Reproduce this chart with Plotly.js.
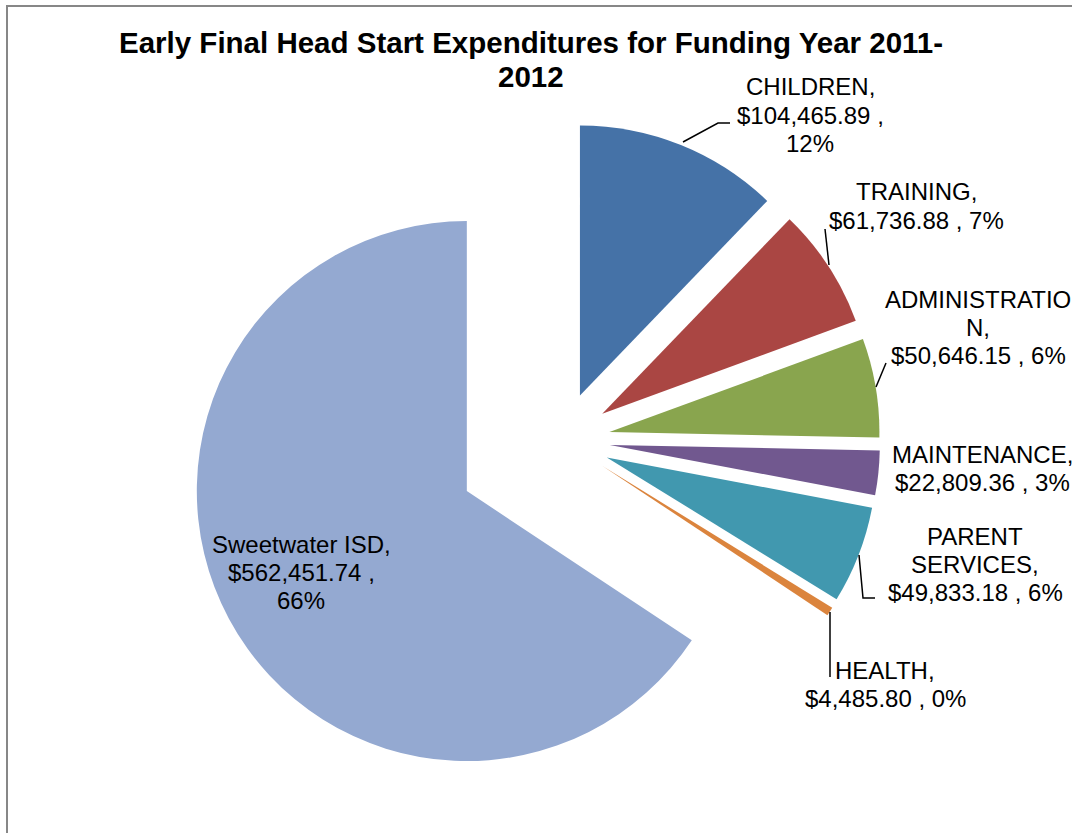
<!DOCTYPE html>
<html>
<head>
<meta charset="utf-8">
<script src="https://cdn.plot.ly/plotly-3.0.1.min.js"></script>
<style>
  html, body { margin: 0; padding: 0; background: #fff; }
  #chart { width: 1072px; height: 833px; }
</style>
</head>
<body>
<div id="chart"></div>
<script>
// slices, clockwise from 12 o'clock
const categories = ['CHILDREN', 'TRAINING', 'ADMINISTRATION', 'MAINTENANCE', 'PARENT SERVICES', 'HEALTH', 'Sweetwater ISD'];
const amounts = [104465.89, 61736.88, 50646.15, 22809.36, 49833.18, 4485.80, 562451.74];
const percents = ['12%', '7%', '6%', '3%', '6%', '0%', '66%'];
// label text, one entry per line as it wraps in the original
const labelLines = [
  ['CHILDREN,', '$104,465.89 ,', '12%'],
  ['TRAINING,', '$61,736.88 , 7%'],
  ['ADMINISTRATIO', 'N,', '$50,646.15 , 6%'],
  ['MAINTENANCE,', '$22,809.36 , 3%'],
  ['PARENT', 'SERVICES,', '$49,833.18 , 6%'],
  ['HEALTH,', '$4,485.80 , 0%'],
  ['Sweetwater ISD,', '$562,451.74 ,', '66%']
];
const titleLines = ['Early Final Head Start Expenditures for Funding Year 2011-', '2012'];

const colors = ['#4572A7', '#AA4643', '#89A54E', '#71588F', '#4198AF', '#DB843D', '#94A9D1'];
const pulls = [0.178, 0.178, 0.178, 0.178, 0.178, 0.178, 0.4];

const W = 1072, H = 833;
const px = (x, y) => [x / W, 1 - y / H];

// label block centres and leader lines, in pixels
const labelPos = [[810, 115], [916, 206], [978, 327], [982, 468], [975, 564], [885, 684], [301, 572]];
const LINE_GAP = 28;
const leaders = [
  [[683, 142], [718, 123], [730, 123]],
  [[829, 265], [825, 229]],
  [[876, 387], [886, 363]],
  null,
  [[859, 555], [863, 598], [875, 598]],
  [[830, 612], [830, 677]],
  null
];

const FONT = 'Liberation Sans, Arial, sans-serif';

let annotations = [];
labelLines.forEach((lines, i) => {
  let n = lines.length;
  lines.forEach((t, k) => {
    let yy = labelPos[i][1] + (k - (n - 1) / 2) * LINE_GAP;
    let p = px(labelPos[i][0], yy);
    annotations.push({
      text: t, x: p[0], y: p[1], xref: 'paper', yref: 'paper',
      xanchor: 'center', yanchor: 'middle', showarrow: false,
      font: {family: FONT, size: 24, color: '#000'}
    });
  });
});

// two-line chart title
titleLines.forEach((t, k) => {
  let p = px(531, 42 + k * 34.5);
  annotations.push({
    text: t, x: p[0], y: p[1], xref: 'paper', yref: 'paper',
    xanchor: 'center', yanchor: 'middle', showarrow: false,
    font: {family: FONT, size: 29.5, color: '#000', weight: 'bold'}
  });
});

let shapes = [];
leaders.forEach(l => {
  if (!l) return;
  let d = l.map((pt, k) => {
    let p = px(pt[0], pt[1]);
    return (k ? 'L' : 'M') + p[0] + ',' + p[1];
  }).join(' ');
  shapes.push({type: 'path', xref: 'paper', yref: 'paper', path: d, line: {color: '#000', width: 1.5}});
});
// chart area frame
shapes.push({
  type: 'rect', xref: 'paper', yref: 'paper',
  x0: 7 / W, x1: 1.02, y0: -0.02, y1: 1 - 6 / H,
  line: {color: '#878787', width: 2}, fillcolor: 'rgba(0,0,0,0)'
});

let trace = {
  type: 'pie',
  labels: categories,
  values: amounts,
  customdata: percents,
  sort: false,
  direction: 'clockwise',
  rotation: 0,
  pull: pulls,
  textinfo: 'none',
  hoverinfo: 'label+value',
  marker: {colors: colors, line: {width: 0}},
  domain: {x: [0.1716, 0.8769], y: [0.018, 0.9256]}
};

let layout = {
  width: W, height: H,
  margin: {l: 0, r: 0, t: 0, b: 0},
  paper_bgcolor: '#fff',
  showlegend: false,
  annotations: annotations,
  shapes: shapes
};

Plotly.newPlot('chart', [trace], layout, {displayModeBar: false, staticPlot: true});
</script>
</body>
</html>
